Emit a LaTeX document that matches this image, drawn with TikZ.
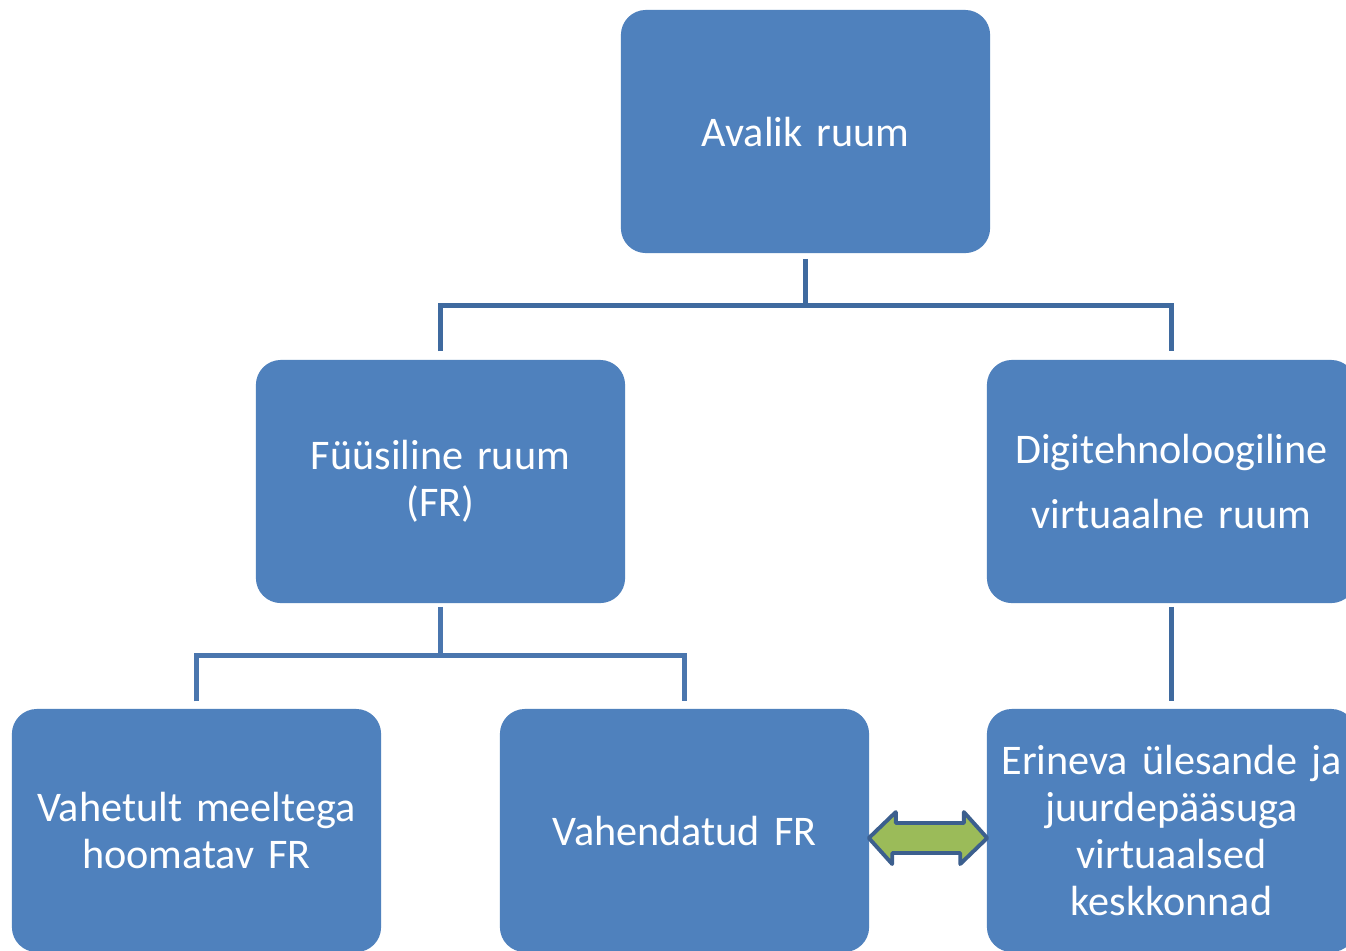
\documentclass[tikz,border=0pt]{standalone}
\usepackage{fontspec}
\setmainfont{Carlito}
\definecolor{boxblue}{HTML}{4F81BD}
\definecolor{linetop}{HTML}{3F6A9F}
\definecolor{linelow}{HTML}{4A76AE}
\definecolor{arrgreen}{HTML}{9BBB59}
\definecolor{arrborder}{HTML}{3C5F8E}
\begin{document}
\begin{tikzpicture}[x=0.01cm,y=-0.01cm,
  bluebox/.style={fill=boxblue, draw=none, rounded corners=0.25cm,
    minimum width=3.69cm, minimum height=2.43cm, inner sep=0pt,
    text=white, align=center, text width=3.6cm,
    font=\fontsize{12}{13.4}\selectfont},
  tree/.style={line width=1.5pt, draw=linetop},
  treelow/.style={line width=1.5pt, draw=linelow}]
\useasboundingbox[clip] (0,0) rectangle (1346,950);
\fill[white] (0,0) rectangle (1346,950);
\node[bluebox] (top) at (805.5,131.5) {Avalik ruum};
\node[bluebox] (fr) at (440.5,481.5) {Füüsiline ruum\\(FR)};
\node[bluebox] (digi) at (1171.5,481.5) {Digitehnoloogiline\\[5pt]virtuaalne ruum};
\node[bluebox] (vah) at (196.5,830.5) {Vahetult meeltega\\hoomatav FR};
\node[bluebox] (vfr) at (684.5,830.5) {Vahendatud FR};
\node[bluebox] (eri) at (1171.5,830.5) {Erineva ülesande ja\\juurdepääsuga\\virtuaalsed\\keskkonnad};
% top tree
\coordinate (tb) at ([yshift=-0.05cm]top.south);
\draw[tree] (tb) -- ++(0,47) coordinate (tj);
\draw[tree] ([yshift=0.08cm]fr.north) |- (tj) -| ([yshift=0.08cm]digi.north);
% lower left tree
\draw[treelow] ([yshift=-0.03cm]fr.south) -- ++(0,49) coordinate (lj);
\draw[treelow] ([yshift=0.07cm]vah.north) |- (lj) -| ([yshift=0.07cm]vfr.north);
% right vertical
\draw[tree] ([yshift=-0.03cm]digi.south) -- ([yshift=0.07cm]eri.north);
% double block arrow
\coordinate (al) at ([xshift=-0.01cm,yshift=-0.075cm]vfr.east);
\coordinate (ar) at ([xshift=0.01cm,yshift=-0.075cm]eri.west);
\draw[fill=arrgreen, draw=arrborder, line width=1.1pt, line join=round]
  (al) -- ++(27,-26) -- ++(0,11) -- ++(68,0) -- ++(0,-11) -- (ar)
  -- ++(-27,26) -- ++(0,-11) -- ++(-68,0) -- ++(0,11) -- cycle;
\end{tikzpicture}
\end{document}
